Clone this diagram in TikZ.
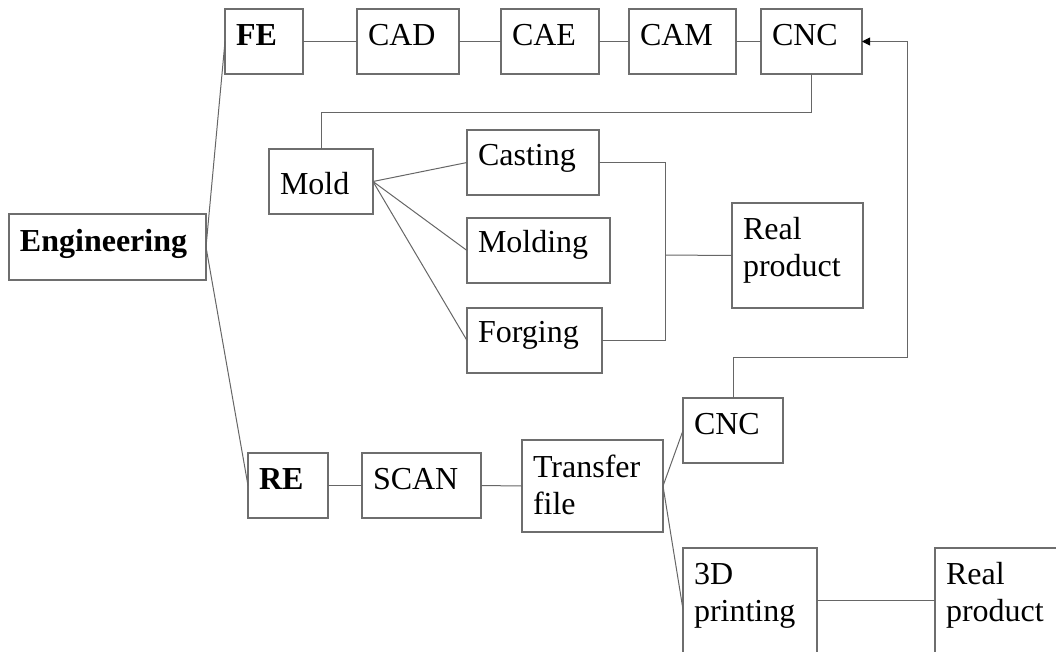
\documentclass[tikz,border=0pt]{standalone}
\usepackage{fontspec}
\setmainfont{Liberation Serif}
\usetikzlibrary{arrows.meta,calc}
\definecolor{framegray}{HTML}{6E6E6E}
\definecolor{linkgray}{HTML}{666666}
% box text: [baseline from top]{width}{height}{text}
\newcommand{\boxtxt}[4][36]{\parbox[c][#3pt][t]{#2pt}{\raggedright\leftskip=11pt\rule{0pt}{#1pt}#4}}
\tikzset{
    every node/.style={font=\fontsize{32}{37}\selectfont},
    blk/.style={draw=framegray,line width=1.3pt,anchor=north west,inner sep=0pt,outer sep=0pt},
    link/.style={draw=linkgray,line width=1pt},
    feed/.style={link,-{Triangle[length=8pt,width=8pt,color=black]}}
}
\begin{document}
\begin{tikzpicture}[x=1pt,y=-1pt]
\useasboundingbox (0,0) rectangle (1056,651);
\clip (0,0) rectangle (1056,651);
% root
\node[blk] (eng) at (9,214) {\boxtxt[37]{197}{66}{\textbf{Engineering}}};
% forward engineering
\node[blk] (fe) at (225,9) {\boxtxt{78}{65}{\textbf{FE}}};
\node[blk] (cad) at (357,9) {\boxtxt{102}{65}{CAD}};
\node[blk] (cae) at (501,9) {\boxtxt{98}{65}{CAE}};
\node[blk] (cam) at (629,9) {\boxtxt{107}{65}{CAM}};
\node[blk] (cnc) at (761,9) {\boxtxt{101}{65}{CNC}};
\node[blk] (mold) at (269,149) {\boxtxt[45]{104}{65}{Mold}};
\node[blk] (casting) at (467,130) {\boxtxt[35]{132}{65}{Casting}};
\node[blk] (molding) at (467,218) {\boxtxt[34]{143}{65}{Molding}};
\node[blk] (forging) at (467,308) {\boxtxt[34]{135}{65}{Forging}};
\node[blk] (realm) at (732,203) {\boxtxt{131}{105}{Real\\product}};
% reverse engineering
\node[blk] (re) at (248,453) {\boxtxt{80}{65}{\textbf{RE}}};
\node[blk] (scan) at (362,453) {\boxtxt{119}{65}{SCAN}};
\node[blk] (tf) at (522,440) {\boxtxt[37]{141}{92}{Transfer\\file}};
\node[blk] (cnc2) at (683,398) {\boxtxt{100}{65}{CNC}};
\node[blk] (pr) at (683,548) {\boxtxt{134}{105}{3D\\printing}};
\node[blk] (reall) at (935,548) {\boxtxt{131}{105}{Real\\product}};
\coordinate (jx) at (665,255);
\coordinate (rx) at (907,357);
% connectors
\draw[link] (eng.east) -- (fe.west);
\draw[link] (eng.east) -- (re.west);
\draw[link] (fe.east) -- (cad.west);
\draw[link] (cad.east) -- (cae.west);
\draw[link] (cae.east) -- (cam.west);
\draw[link] (cam.east) -- (cnc.west);
\draw[link] (cnc.south) -- ++(0,38) -| (mold.north);
\draw[link] (mold.east) -- (casting.west);
\draw[link] (mold.east) -- (molding.west);
\draw[link] (mold.east) -- (forging.west);
\draw[link] (casting.east) -- (casting.east -| jx) -- (forging.east -| jx) -- (forging.east);
\draw[link] (jx) -- (realm.west);
\draw[link] (re.east) -- (scan.west);
\draw[link] (scan.east) -- (tf.west);
\draw[link] (tf.east) -- (cnc2.west);
\draw[link] (tf.east) -- ([yshift=-9pt]pr.west);
\draw[link] (pr.east) -- (reall.west);
\draw[feed] (cnc2.north) |- (rx) |- (cnc.east);
\end{tikzpicture}
\end{document}
